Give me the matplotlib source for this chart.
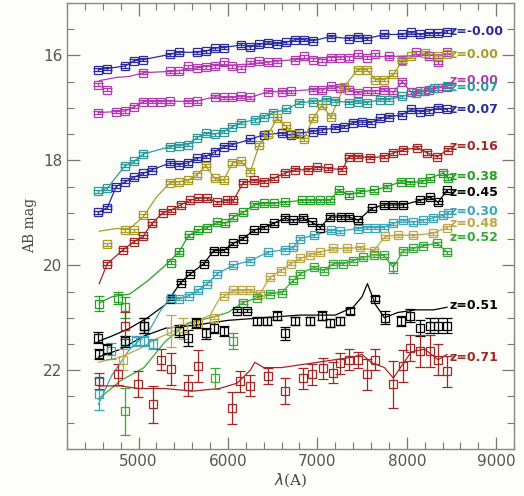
import numpy as np
import matplotlib.pyplot as plt
from matplotlib.ticker import MultipleLocator

# photometry per galaxy: wavelength (A), AB mag, error; model SED lines where they differ
wl_a = [4550, 4650, 4850, 4950, 5050, 5350, 5450, 5650, 5750, 5850, 5950, 6150, 6250, 6350, 6450, 6550,
        6650, 6750, 6850, 6950, 7150, 7350, 7450, 7550, 7750, 7950, 8050, 8150, 8250, 8350, 8450]
mag_a = [16.27, 16.25, 16.2, 16.1, 16.08, 15.98, 15.94, 15.94, 15.92, 15.86, 15.85, 15.8, 15.84, 15.79, 15.76, 15.78,
         15.75, 15.7, 15.7, 15.72, 15.64, 15.68, 15.64, 15.68, 15.6, 15.6, 15.56, 15.6, 15.58, 15.58, 15.55]

wl_b = [4550, 4650, 5050, 5350, 5450, 5550, 5650, 5750, 5850, 5950, 6050, 6150, 6250, 6350, 6450, 6550,
        6750, 6850, 6950, 7050, 7150, 7250, 7350, 7450, 7550, 7650, 7800, 7950, 8100, 8250, 8350, 8450]
mag_b = [16.56, 16.65, 16.33, 16.3, 16.3, 16.21, 16.23, 16.22, 16.2, 16.13, 16.21, 16.23, 16.13, 16.11, 16.13, 16.12,
         16.08, 16.02, 16.08, 16.1, 16.05, 16.04, 16.05, 15.98, 16.04, 15.98, 16.02, 16.08, 15.94, 16.02, 16.13, 15.94]
line_wl_b = [4560, 4750, 4900, 5050, 5400, 5800, 6200, 6600, 7000, 7400, 7800, 8200, 8450]
line_mag_b = [16.48, 16.42, 16.4, 16.33, 16.3, 16.2, 16.17, 16.1, 16.05, 16.02, 16.02, 16.0, 15.98]

wl_c = [4550, 4750, 4850, 4950, 5050, 5150, 5250, 5350, 5550, 5650, 5850, 5950, 6050, 6150, 6250, 6450, 6600,
        6700, 6950, 7050, 7150, 7250, 7350, 7450, 7550, 7650, 7750, 7850, 7950, 8050, 8150, 8250, 8350, 8450]
mag_c = [17.09, 17.07, 17.06, 16.98, 16.88, 16.88, 16.88, 16.87, 16.88, 16.87, 16.79, 16.8, 16.8, 16.78, 16.8, 16.69,
         16.69, 16.68, 16.65, 16.66, 16.59, 16.62, 16.65, 16.71, 16.68, 16.68, 16.65, 16.7, 16.5, 16.7, 16.68, 16.65,
         16.62, 16.6]

wl_d = [4550, 4650, 4850, 4950, 5050, 5350, 5450, 5550, 5650, 5750, 5850, 5950, 6050, 6150, 6300, 6400, 6500,
        6650, 6800, 6950, 7100, 7200, 7350, 7450, 7550, 7700, 7800, 7950, 8100, 8200, 8300, 8450]
mag_d = [18.59, 18.53, 18.1, 18.02, 17.88, 17.74, 17.72, 17.7, 17.57, 17.48, 17.5, 17.45, 17.36, 17.28, 17.23, 17.17,
         17.09, 17.03, 16.9, 16.88, 16.84, 16.86, 16.9, 16.88, 16.9, 16.84, 16.84, 16.78, 16.72, 16.68, 16.62, 16.58]

wl_e = [4550, 4650, 4750, 4850, 4950, 5050, 5150, 5350, 5450, 5550, 5650, 5750, 5850, 5950, 6050, 6250, 6400, 6600,
        6700, 6800, 6950, 7050, 7200, 7300, 7400, 7500, 7600, 7700, 7800, 7950, 8050, 8150, 8250, 8350, 8450]
mag_e = [18.99, 18.9, 18.5, 18.41, 18.32, 18.25, 18.18, 18.05, 18.08, 18.05, 17.96, 17.93, 17.84, 17.74, 17.7, 17.6,
         17.51, 17.48, 17.52, 17.48, 17.45, 17.42, 17.38, 17.36, 17.28, 17.27, 17.28, 17.2, 17.17, 17.13, 17.03, 17.07,
         17.06, 17.0, 17.03]

wl_f = [4650, 4850, 4950, 5050, 5350, 5450, 5550, 5650, 5750, 5850, 5950, 6050, 6150, 6250, 6350, 6450, 6550, 6650,
        6750, 6850, 6950, 7050, 7150, 7300, 7450, 7550, 7650, 7750, 7850, 7950, 8050, 8200, 8350, 8450]
mag_f = [19.6, 19.33, 19.33, 19.05, 18.43, 18.42, 18.38, 18.28, 18.1, 18.34, 18.38, 18.05, 18.02, 18.22, 17.7, 17.5,
         17.2, 17.35, 17.5, 17.6, 17.2, 16.95, 17.17, 16.6, 16.27, 16.27, 16.46, 16.46, 16.36, 16.11, 16.02, 15.95, 16.02,
         15.98]
line_wl_f = [4560, 4750, 4900, 5050, 5200, 5350, 5550, 5650, 5750, 5850, 5950, 6050, 6150, 6250, 6350, 6450, 6550,
             6650, 6750, 6850, 6950, 7050, 7150, 7300, 7450, 7550, 7650, 7750, 7850, 7950, 8050, 8200, 8350, 8450]
line_mag_f = [19.35, 19.3, 19.3, 19.08, 18.7, 18.43, 18.38, 18.28, 18.1, 18.34, 18.38, 18.05, 18.02, 18.22, 17.7, 17.5,
              17.2, 17.35, 17.5, 17.6, 17.2, 16.95, 17.17, 16.6, 16.27, 16.27, 16.46, 16.46, 16.36, 16.11, 16.02, 15.95,
              16.02, 15.98]

wl_g = [4650, 4830, 4950, 5050, 5150, 5270, 5360, 5470, 5580, 5670, 5770, 5880, 5990, 6060, 6170, 6290, 6400, 6510,
        6640, 6750, 6890, 7000, 7120, 7280, 7350, 7460, 7590, 7740, 7850, 7960, 8120, 8230, 8340, 8460]
mag_g = [19.97, 19.7, 19.55, 19.45, 19.2, 19.0, 18.95, 18.85, 18.76, 18.72, 18.72, 18.8, 18.76, 18.76, 18.43, 18.38,
         18.41, 18.34, 18.24, 18.18, 18.18, 18.13, 18.15, 18.18, 17.93, 17.93, 17.95, 17.93, 17.86, 17.8, 17.76, 17.86,
         17.93, 17.8]
line_wl_g = [4560] + wl_g
line_mag_g = [20.35] + mag_g

wl_h = [4560, 4770, 4850, 5360, 5450, 5560, 5670, 5770, 5880, 5970, 6060, 6170, 6290, 6400, 6510, 6640, 6830, 6920,
        7030, 7140, 7240, 7350, 7480, 7630, 7780, 7930, 8040, 8170, 8260, 8410, 8460]
mag_h = [20.73, 20.62, 20.8, 19.95, 19.75, 19.43, 19.33, 19.28, 19.18, 19.2, 19.08, 18.99, 18.85, 18.82, 18.82, 18.8,
         18.76, 18.76, 18.76, 18.76, 18.57, 18.66, 18.6, 18.57, 18.5, 18.41, 18.42, 18.41, 18.34, 18.24, 18.34]
err_h = [0.15, 0.12, 0.2] + [0.03] * 28
line_wl_h = [4560, 4700, 4900, 5100, 5300] + wl_h[4:]
line_mag_h = [20.72, 20.6, 20.55, 20.3, 20.0] + mag_h[4:]

wl_i = [4550, 5060, 5360, 5470, 5580, 5730, 5840, 5950, 6060, 6170, 6290, 6400, 6510, 6640, 6730, 6840, 6940, 7030,
        7140, 7260, 7350, 7460, 7610, 7740, 7850, 7960, 8150, 8260, 8350, 8450]
mag_i = [21.38, 21.15, 20.64, 20.33, 20.16, 19.97, 19.72, 19.72, 19.58, 19.49, 19.33, 19.28, 19.2, 19.1, 19.14, 19.1,
         19.18, 19.28, 19.08, 19.08, 19.08, 19.14, 18.91, 18.85, 18.85, 18.85, 18.76, 18.7, 18.8, 18.57]
err_i = [0.1, 0.15] + [0.03] * 28
line_wl_i = [4550, 4700, 4900, 5100, 5300] + wl_i[3:]
line_mag_i = [21.45, 21.35, 21.2, 21.0, 20.75] + mag_i[3:]

wl_j = [4560, 4690, 4850, 4970, 5060, 5160, 5360, 5450, 5560, 5660, 5770, 5880, 6060, 6250, 6450, 6640, 6730, 6810,
        6960, 7150, 7250, 7450, 7560, 7650, 7740, 7850, 7960, 8070, 8180, 8290, 8400, 8460]
mag_j = [22.45, 21.63, 21.44, 21.44, 21.44, 21.5, 20.62, 20.64, 20.58, 20.48, 20.35, 20.16, 20.0, 19.91, 19.75, 19.7,
         19.66, 19.49, 19.43, 19.33, 19.35, 19.3, 19.28, 19.28, 19.28, 19.2, 19.14, 19.18, 19.14, 19.1, 19.05, 19.0]
err_j = [0.3, 0.15, 0.1, 0.1, 0.1, 0.1] + [0.03] * 26
line_wl_j = [4550, 4700, 4900, 5100, 5250] + wl_j[6:]
line_mag_j = [22.65, 22.1, 21.6, 21.3, 20.85] + mag_j[6:]

wl_k = [4830, 5360, 5500, 5660, 5840, 5950, 6060, 6160, 6250, 6360, 6470, 6590, 6700, 6810, 6920, 7030, 7180, 7330,
        7480, 7630, 7760, 7900, 8070, 8290, 8450]
mag_k = [21.8, 21.25, 21.2, 21.1, 21.0, 20.58, 20.48, 20.48, 20.48, 20.54, 20.23, 20.1, 19.97, 19.87, 19.8, 19.75,
         19.68, 19.68, 19.66, 19.72, 19.45, 19.43, 19.43, 19.39, 19.28]
err_k = [0.2, 0.3, 0.2, 0.1] + [0.03] * 21
line_wl_k = [4550, 4800, 5000, 5200, 5400, 5600, 5800, 5900] + wl_k[6:]
line_mag_k = [21.85, 21.75, 21.6, 21.4, 21.25, 21.1, 20.95, 20.65] + mag_k[6:]

wl_l = [4850, 5860, 6060, 6170, 6330, 6470, 6600, 6730, 6810, 6960, 7070, 7180, 7290, 7400, 7510, 7630, 7740, 7850,
        7960, 8070, 8180, 8340, 8450]
mag_l = [22.78, 22.15, 21.44, 20.71, 20.62, 20.54, 20.52, 20.29, 20.16, 20.04, 20.1, 19.97, 19.97, 19.91, 19.85,
         19.81, 19.81, 20.04, 19.72, 19.68, 19.63, 19.58, 19.75]
err_l = [0.45, 0.2, 0.15] + [0.03] * 14 + [0.1] + [0.03] * 5
line_wl_l = [4550, 4800, 5060, 5300, 5550, 5800, 6000, 6170] + wl_l[4:]
line_mag_l = [22.55, 22.2, 21.95, 21.45, 21.1, 21.0, 20.9, 20.71] + mag_l[4:]

wl_m = [4560, 4650, 4850, 5060, 5450, 5550, 5640, 5750, 5840, 5950, 6100, 6210, 6330, 6440, 6550, 6640, 6750, 6920,
        7050, 7140, 7250, 7370, 7650, 7760, 7930, 8040, 8150, 8260, 8350, 8450]
mag_m = [21.69, 21.6, 21.45, 21.15, 21.25, 21.38, 21.1, 21.3, 21.19, 21.25, 20.87, 20.87, 21.06, 21.06, 20.96, 21.3,
         21.06, 21.06, 20.96, 21.1, 21.06, 20.87, 20.64, 21.0, 21.06, 20.96, 21.19, 21.15, 21.15, 21.15]
err_m = [0.1, 0.1, 0.1, 0.15, 0.12, 0.15, 0.1, 0.1, 0.1, 0.1, 0.03, 0.03, 0.08, 0.08, 0.08, 0.12, 0.08, 0.08,
         0.08, 0.08, 0.08, 0.05, 0.05, 0.12, 0.1, 0.12, 0.15, 0.15, 0.15, 0.15]
line_wl_m = [4550, 4800, 5060, 5300, 5600, 6000, 6400, 6800, 7200, 7400, 7500, 7560, 7650, 7750, 7900, 8100, 8300, 8450]
line_mag_m = [21.75, 21.6, 21.35, 21.2, 21.15, 21.05, 21.0, 20.95, 20.95, 20.8, 20.6, 20.35, 20.75, 21.0, 20.9, 20.85,
              20.85, 20.8]

wl_n = [4560, 4770, 4850, 4990, 5160, 5250, 5360, 5550, 5660, 6050, 6140, 6250, 6450, 6640, 6840, 6940, 7060, 7170,
        7250, 7350, 7460, 7560, 7650, 7850, 7960, 8040, 8150, 8260, 8350, 8450]
mag_n = [22.21, 22.08, 21.15, 22.27, 22.65, 21.8, 21.98, 22.3, 21.92, 22.72, 22.21, 22.3, 22.11, 22.4, 22.15, 22.08,
         21.96, 22.05, 21.87, 21.8, 21.8, 22.08, 21.8, 22.27, 21.92, 21.57, 21.63, 21.63, 21.8, 22.02]
err_n = [0.15, 0.2, 0.25, 0.25, 0.35, 0.2, 0.3, 0.2, 0.3, 0.3, 0.2, 0.2, 0.15, 0.25, 0.2, 0.2, 0.2, 0.2, 0.2, 0.2,
         0.15, 0.3, 0.2, 0.45, 0.3, 0.25, 0.3, 0.3, 0.3, 0.3]
line_wl_n = [4550, 4800, 5000, 5300, 5600, 5900, 6100, 6250, 6300, 6400, 6600, 6800, 7000, 7200, 7400, 7500, 7600,
             7750, 7850, 7950, 8050, 8200, 8350, 8450]
line_mag_n = [22.3, 22.3, 22.35, 22.35, 22.4, 22.35, 22.25, 22.0, 21.85, 21.95, 21.95, 21.9, 21.85, 21.8, 21.75, 21.7,
              21.85, 21.95, 22.15, 21.9, 21.65, 21.6, 21.8, 21.7]

labels = ["z=-0.00", "z=0.00", "z=0.00", "z=0.07", "z=0.07", "z=0.16", "z=0.38", "z=0.45", "z=0.30",
          "z=0.48", "z=0.52", "z=0.51", "z=0.71"]
label_y = [15.55, 15.98, 16.48, 16.62, 17.03, 17.74, 18.3, 18.62, 18.97, 19.21, 19.47, 20.77, 21.75]

navy, magenta, teal, olive = "#2b2b9c", "#b03cb0", "#2a9a9a", "#a89c28"
red, green, cyan, olive2, green2 = "#a02828", "#27a027", "#3aa6b8", "#bca84a", "#3aa83a"

# (wl, mag, err, line wl, line mag, color, label index)
series = [
    (wl_a, mag_a, 0.03, wl_a, mag_a, navy, 0),
    (wl_b, mag_b, 0.03, line_wl_b, line_mag_b, magenta, None),
    (wl_c, mag_c, 0.03, wl_c, mag_c, magenta, 2),
    (wl_d, mag_d, 0.03, wl_d, mag_d, teal, 3),
    (wl_e, mag_e, 0.03, wl_e, mag_e, navy, 4),
    (wl_f, mag_f, 0.03, line_wl_f, line_mag_f, olive, 1),
    (wl_g, mag_g, 0.03, line_wl_g, line_mag_g, red, 5),
    (wl_h, mag_h, err_h, line_wl_h, line_mag_h, green, 6),
    (wl_i, mag_i, err_i, line_wl_i, line_mag_i, "black", 7),
    (wl_j, mag_j, err_j, line_wl_j, line_mag_j, cyan, 8),
    (wl_k, mag_k, err_k, line_wl_k, line_mag_k, olive2, 9),
    (wl_l, mag_l, err_l, line_wl_l, line_mag_l, green2, 10),
    (wl_m, mag_m, err_m, line_wl_m, line_mag_m, "black", 11),
    (wl_n, mag_n, err_n, line_wl_n, line_mag_n, red, 12),
]

fig = plt.figure(figsize=(5.24, 4.96), dpi=100, facecolor="#fdfdf9")
ax = fig.add_axes([0.128, 0.095, 0.853, 0.899])
ax.set_facecolor("#fdfdf9")

for wl, mag, err, lwl, lmag, col, li in series:
    ax.plot(lwl, lmag, color=col, lw=0.9, zorder=2)
    ax.errorbar(wl, mag, yerr=err, fmt="s", ms=6.3, mfc="none", mec=col, mew=0.9,
                ecolor=col, elinewidth=0.9, capsize=3.6, capthick=0.9, zorder=3)
    if li is not None:
        ax.text(8475, label_y[li], labels[li], color=col, fontsize=9, fontweight="bold",
                ha="left", va="center", zorder=4)

ax.set_xlim(4200, 9200)
ax.set_ylim(23.5, 15)
ax.xaxis.set_major_locator(MultipleLocator(1000))
ax.xaxis.set_minor_locator(MultipleLocator(200))
ax.yaxis.set_major_locator(MultipleLocator(2))
ax.yaxis.set_minor_locator(MultipleLocator(0.5))
ax.tick_params(which="both", direction="in", top=True, right=True, color="#777777", labelcolor="#555555",
               labelsize=11)
ax.tick_params(which="major", length=9, width=0.9)
ax.tick_params(which="minor", length=5, width=0.8)
for s in ax.spines.values():
    s.set_color("#888888")
    s.set_linewidth(1.0)

ax.set_xlabel(r"$\lambda$(A)", fontsize=11, family="DejaVu Serif", color="#444444", labelpad=2)
ax.set_ylabel("AB mag", fontsize=10, family="DejaVu Serif", color="#444444")

fig.savefig("out.png", dpi=100, facecolor=fig.get_facecolor())
